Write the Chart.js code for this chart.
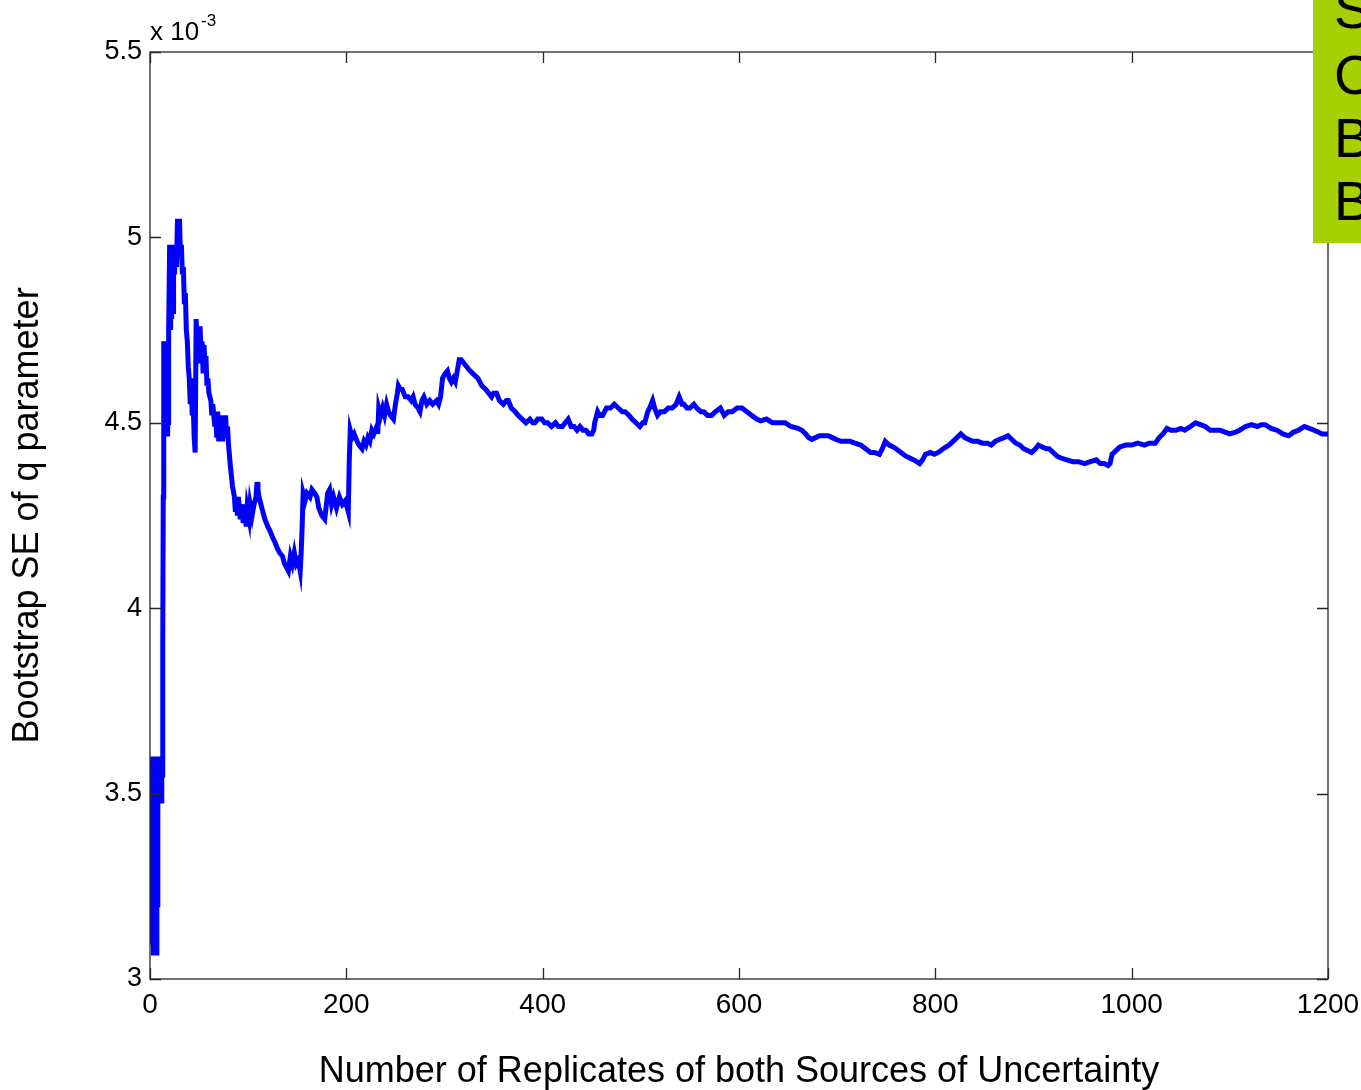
<!DOCTYPE html>
<html>
<head>
<meta charset="utf-8">
<script src="https://cdn.jsdelivr.net/npm/chart.js@4/dist/chart.umd.min.js"></script>
<style>
  html, body { margin: 0; padding: 0; background: #fff; }
  #wrap { width: 1361px; height: 1090px; }
</style>
</head>
<body>
<div id="wrap"><canvas id="chart" width="1361" height="1090"></canvas></div>
<script>
// replicate count and bootstrap SE (x 10^-3), ten per row
const replicates = [
  0, 0.5, 1, 1.5, 2, 2.5, 3, 3.5, 4, 4.5,
  5, 5.5, 6, 6.5, 7, 7.5, 8, 8.5, 9, 9.5,
  10, 10.5, 11, 11.5, 12, 12.5, 13, 13.5, 14, 14.5,
  15, 15.5, 16, 16.5, 17, 17.5, 18, 18.5, 19, 20,
  21, 21.5, 22, 23, 23.5, 24, 25, 26, 27, 28,
  29, 30, 31, 32, 33, 34, 35, 36, 37, 38,
  39, 40, 41, 42, 43, 44, 45, 46, 47, 48,
  49, 50, 51, 52, 53, 54, 55, 56, 57, 58,
  59, 60, 62, 63, 64, 66, 67, 68, 69, 70,
  71, 72, 73, 74, 75, 76, 77, 78, 79, 80,
  82, 84, 86, 87, 88, 89, 90, 92, 93, 95,
  96, 98, 99, 101, 102, 104, 106, 108, 109, 110,
  111, 113, 115, 117, 120, 122, 125, 127, 130, 132,
  135, 137, 139, 141, 143, 145, 147, 149, 151, 153,
  154, 155, 156, 158, 160, 163, 165, 168, 170, 172,
  175, 178, 181, 183, 185, 187, 190, 193, 196, 199,
  201, 202, 203, 204, 206, 208, 211, 213, 216, 218,
  220, 222, 224, 226, 228, 231, 232, 233, 235, 237,
  239, 241, 243, 245, 248, 250, 252, 253, 255, 257,
  260, 263, 266, 268, 270, 273, 275, 277, 279, 282,
  285, 288, 292, 294, 296, 298, 300, 303, 305, 307,
  309, 311, 313, 315, 317, 320, 323, 326, 330, 334,
  338, 342, 345, 348, 350, 353, 356, 360, 363, 365,
  368, 372, 375, 379, 383, 387, 390, 392, 395, 399,
  402, 405, 409, 413, 416, 420, 423, 426, 429, 432,
  435, 438, 441, 444, 447, 450, 452, 453, 456, 458,
  461, 465, 469, 473, 477, 481, 484, 488, 491, 495,
  499, 502, 504, 507, 509, 512, 514, 517, 520, 524,
  528, 532, 536, 539, 542, 544, 547, 550, 554, 557,
  561, 564, 568, 572, 576, 581, 585, 589, 593, 598,
  603, 608, 613, 618, 622, 628, 634, 640, 647, 653,
  660, 664, 668, 671, 674, 678, 682, 687, 691, 695,
  699, 704, 708, 713, 718, 724, 729, 734, 738, 743,
  746, 749, 753, 757, 760, 765, 770, 774, 778, 781,
  784, 787, 790, 795, 799, 803, 808, 811, 814, 818,
  822, 826, 830, 834, 838, 843, 848, 853, 857, 861,
  865, 870, 874, 878, 882, 886, 890, 894, 898, 902,
  905, 909, 913, 916, 920, 924, 928, 934, 940, 946,
  952, 958, 964, 968, 972, 976, 978, 980, 984, 988,
  994, 1000, 1006, 1013, 1018, 1024, 1028, 1032, 1036, 1040,
  1045, 1050, 1054, 1060, 1065, 1070, 1075, 1080, 1084, 1090,
  1095, 1100, 1106, 1110, 1116, 1122, 1128, 1132, 1136, 1142,
  1148, 1154, 1160, 1165, 1170, 1176, 1181, 1186, 1190, 1194,
  1200
];
const seValues = [
  3.60, 3.10, 3.58, 3.12, 3.60, 3.10, 3.55, 3.07, 3.60, 3.08,
  3.60, 3.30, 3.60, 3.07, 3.58, 3.20, 3.60, 3.50, 3.60, 3.48,
  3.60, 3.50, 3.60, 3.48, 3.60, 3.55, 3.90, 4.30, 4.72, 4.47,
  4.72, 4.47, 4.72, 4.48, 4.70, 4.47, 4.72, 4.50, 4.75, 4.98,
  4.75, 4.97, 4.78, 4.98, 4.80, 4.97, 4.90, 4.98, 4.92, 5.05,
  5.00, 5.05, 4.95, 4.98, 4.90, 4.92, 4.82, 4.85, 4.75, 4.72,
  4.65, 4.62, 4.55, 4.62, 4.52, 4.55, 4.46, 4.42, 4.78, 4.70,
  4.74, 4.66, 4.76, 4.68, 4.72, 4.64, 4.71, 4.66, 4.68, 4.60,
  4.62, 4.58, 4.56, 4.52, 4.55, 4.49, 4.52, 4.46, 4.53, 4.45,
  4.50, 4.46, 4.52, 4.45, 4.51, 4.47, 4.52, 4.46, 4.49, 4.44,
  4.38, 4.33, 4.30, 4.26, 4.30, 4.25, 4.30, 4.24, 4.28, 4.23,
  4.28, 4.22, 4.27, 4.24, 4.28, 4.25, 4.28, 4.30, 4.34, 4.32,
  4.30, 4.28, 4.26, 4.24, 4.22, 4.21, 4.19, 4.18, 4.16, 4.15,
  4.14, 4.12, 4.11, 4.10, 4.14, 4.12, 4.15, 4.12, 4.13, 4.10,
  4.15, 4.22, 4.31, 4.29, 4.31, 4.30, 4.32, 4.31, 4.30, 4.27,
  4.25, 4.24, 4.31, 4.32, 4.28, 4.30, 4.27, 4.30, 4.28, 4.29,
  4.27, 4.26, 4.40, 4.48, 4.46, 4.47, 4.45, 4.44, 4.43, 4.45,
  4.44, 4.46, 4.45, 4.48, 4.47, 4.49, 4.47, 4.54, 4.52, 4.54,
  4.52, 4.55, 4.53, 4.52, 4.51, 4.55, 4.58, 4.60, 4.59, 4.59,
  4.57, 4.57, 4.56, 4.57, 4.55, 4.54, 4.53, 4.56, 4.57, 4.55,
  4.56, 4.55, 4.56, 4.55, 4.57, 4.62, 4.63, 4.64, 4.62, 4.61,
  4.62, 4.61, 4.64, 4.67, 4.67, 4.66, 4.65, 4.64, 4.63, 4.62,
  4.60, 4.59, 4.58, 4.57, 4.58, 4.58, 4.56, 4.55, 4.56, 4.56,
  4.54, 4.53, 4.52, 4.51, 4.50, 4.51, 4.50, 4.50, 4.51, 4.51,
  4.50, 4.50, 4.49, 4.50, 4.49, 4.49, 4.50, 4.51, 4.49, 4.49,
  4.48, 4.49, 4.48, 4.48, 4.47, 4.47, 4.48, 4.50, 4.53, 4.52,
  4.52, 4.54, 4.54, 4.55, 4.54, 4.53, 4.53, 4.52, 4.51, 4.50,
  4.49, 4.50, 4.50, 4.53, 4.54, 4.56, 4.54, 4.52, 4.53, 4.53,
  4.54, 4.54, 4.55, 4.57, 4.55, 4.55, 4.54, 4.54, 4.55, 4.54,
  4.53, 4.53, 4.52, 4.52, 4.53, 4.54, 4.52, 4.53, 4.53, 4.54,
  4.54, 4.53, 4.52, 4.51, 4.505, 4.51, 4.50, 4.50, 4.50, 4.49,
  4.485, 4.48, 4.47, 4.46, 4.455, 4.46, 4.465, 4.465, 4.465, 4.46,
  4.455, 4.45, 4.45, 4.45, 4.445, 4.44, 4.43, 4.42, 4.42, 4.415,
  4.43, 4.45, 4.44, 4.435, 4.43, 4.42, 4.41, 4.405, 4.40, 4.395,
  4.39, 4.40, 4.415, 4.42, 4.415, 4.42, 4.43, 4.435, 4.44, 4.45,
  4.46, 4.47, 4.46, 4.455, 4.45, 4.45, 4.445, 4.445, 4.44, 4.45,
  4.455, 4.46, 4.465, 4.455, 4.445, 4.44, 4.43, 4.425, 4.42, 4.43,
  4.44, 4.435, 4.43, 4.43, 4.42, 4.41, 4.405, 4.40, 4.395, 4.395,
  4.39, 4.395, 4.40, 4.39, 4.39, 4.385, 4.39, 4.415, 4.425, 4.435,
  4.44, 4.44, 4.445, 4.44, 4.445, 4.445, 4.46, 4.47, 4.485, 4.48,
  4.48, 4.485, 4.48, 4.49, 4.50, 4.495, 4.49, 4.48, 4.48, 4.48,
  4.475, 4.47, 4.475, 4.48, 4.49, 4.495, 4.49, 4.495, 4.495, 4.485,
  4.48, 4.47, 4.465, 4.475, 4.48, 4.49, 4.485, 4.48, 4.475, 4.47,
  4.47
];
const xTicks = [0, 200, 400, 600, 800, 1000, 1200];
const yTicks = [3, 3.5, 4, 4.5, 5, 5.5];
const yTickLabels = ['3', '3.5', '4', '4.5', '5', '5.5'];
const sideLetters = ['S', 'C', 'B', 'B'];

const FONT = '"Liberation Sans", Arial, sans-serif';

// box round the axes, inward ticks, exponent label and the green side panel
const framePlugin = {
  id: 'frame',
  afterDraw(chart) {
    const { ctx, chartArea: a, scales } = chart;
    const x = scales.x, y = scales.y;
    ctx.save();
    ctx.strokeStyle = '#262626';
    ctx.lineWidth = 1.3;
    ctx.strokeRect(a.left, a.top, a.right - a.left, a.bottom - a.top);
    ctx.beginPath();
    xTicks.forEach(v => {
      const px = Math.round(x.getPixelForValue(v)) + 0.5;
      ctx.moveTo(px, a.bottom); ctx.lineTo(px, a.bottom - 11);
      ctx.moveTo(px, a.top); ctx.lineTo(px, a.top + 11);
    });
    yTicks.forEach(v => {
      const py = Math.round(y.getPixelForValue(v)) + 0.5;
      ctx.moveTo(a.left, py); ctx.lineTo(a.left + 11, py);
      ctx.moveTo(a.right, py); ctx.lineTo(a.right - 11, py);
    });
    ctx.stroke();

    ctx.fillStyle = '#000';
    ctx.textBaseline = 'alphabetic';
    ctx.font = '26px ' + FONT;
    ctx.fillText('x 10', 150, 40);
    ctx.font = '17px ' + FONT;
    ctx.fillText('-3', 201, 26);

    ctx.fillStyle = '#a6d000';
    ctx.fillRect(1313, 0, 48, 243);
    ctx.fillStyle = '#000';
    ctx.font = '55px ' + FONT;
    const baselines = [28, 94, 157, 220];
    sideLetters.forEach((t, i) => ctx.fillText(t, 1334, baselines[i]));
    ctx.restore();
  }
};

const ctx = document.getElementById('chart').getContext('2d');
new Chart(ctx, {
  type: 'line',
  data: {
    datasets: [{
      data: replicates.map((n, i) => ({ x: n, y: seValues[i] })),
      borderColor: '#0000ff',
      borderWidth: 5,
      pointRadius: 0,
      tension: 0,
      fill: false,
    }],
  },
  options: {
    responsive: false,
    animation: false,
    layout: { padding: { top: 52, right: 33, left: 0, bottom: 0 } },
    plugins: { legend: { display: false }, tooltip: { enabled: false } },
    scales: {
      x: {
        type: 'linear',
        min: 0,
        max: 1200,
        afterBuildTicks: s => { s.ticks = xTicks.map(v => ({ value: v })); },
        afterFit: s => { s.height = 111; s.paddingLeft = 0; s.paddingRight = 0; },
        grid: { display: false, drawTicks: false },
        border: { display: false },
        ticks: {
          padding: 9,
          color: '#000',
          font: { family: FONT, size: 28 },
          maxRotation: 0,
          callback: v => String(v),
        },
        title: {
          display: true,
          text: 'Number of Replicates of both Sources of Uncertainty',
          color: '#000',
          font: { family: FONT, size: 36 },
          padding: { top: 0, bottom: -4 },
        },
      },
      y: {
        type: 'linear',
        min: 3,
        max: 5.5,
        afterBuildTicks: s => { s.ticks = yTicks.map(v => ({ value: v })); },
        afterFit: s => { s.width = 150; s.paddingTop = 0; s.paddingBottom = 0; },
        grid: { display: false, drawTicks: false },
        border: { display: false },
        ticks: {
          padding: 8,
          color: '#000',
          font: { family: FONT, size: 27 },
          callback: (v) => yTickLabels[yTicks.indexOf(v)],
        },
        title: {
          display: true,
          text: 'Bootstrap SE of q parameter',
          color: '#000',
          font: { family: FONT, size: 36 },
          padding: { top: 6, bottom: 0 },
        },
      },
    },
  },
  plugins: [framePlugin],
});
</script>
</body>
</html>
